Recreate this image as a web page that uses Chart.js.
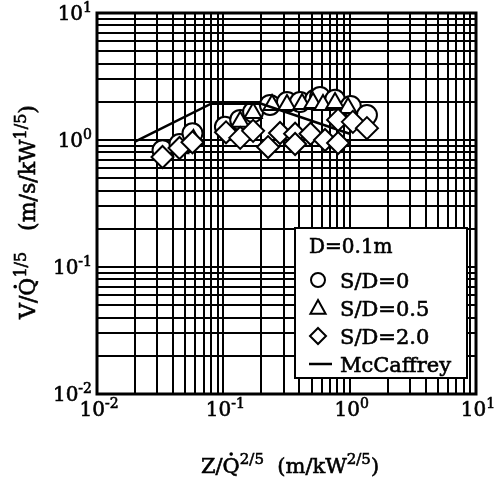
<!DOCTYPE html>
<html>
<head>
<meta charset="utf-8">
<script src="https://cdn.jsdelivr.net/npm/chart.js@4.4.0/dist/chart.umd.min.js"></script>
<style>
  html, body { margin: 0; padding: 0; background: #fff; }
</style>
</head>
<body>
<canvas id="velocityChart" width="501" height="478"></canvas>
<script>
// decade ticks shared by both log axes
const decades = [0.01, 0.1, 1, 10];
const decadeExponents = ['-2', '-1', '0', '1'];

// S/D = 0
const zqCircle = [0.033, 0.045, 0.057, 0.103, 0.136, 0.172, 0.234, 0.319, 0.405, 0.532, 0.583, 0.766, 1.02, 1.37];
const vqCircle = [0.83, 0.93, 1.13, 1.27, 1.44, 1.66, 1.89, 1.99, 1.99, 2.07, 2.18, 2.07, 1.85, 1.57];

// S/D = 0.5
const zqTriangle = [0.045, 0.058, 0.136, 0.172, 0.243, 0.319, 0.42, 0.513, 0.615, 0.766, 0.97];
const vqTriangle = [0.86, 1.0, 1.39, 1.63, 1.89, 1.89, 1.92, 1.96, 1.89, 1.96, 1.79];

// S/D = 2.0
const zqDiamond = [0.033, 0.045, 0.057, 0.105, 0.136, 0.172, 0.226, 0.281, 0.37, 0.37, 0.49, 0.638, 0.81, 0.81, 1.06, 1.37];
const vqDiamond = [0.735, 0.865, 0.96, 1.15, 1.04, 1.18, 0.88, 1.135, 1.12, 0.93, 1.12, 1.0, 0.947, 1.44, 1.39, 1.24];

// McCaffrey correlation (flame / intermittent / plume)
const zqMcCaffrey = [0.02, 0.08, 0.2, 1.0];
const vqMcCaffrey = [0.97, 1.93, 1.93, 1.12];

const FONT = '"DejaVu Serif", "Liberation Serif", serif';

function toPoints(xs, ys) {
  return xs.map((x, i) => ({ x: x, y: ys[i] }));
}

// every 1..9 multiple inside each decade, so all grid lines come out
function fullDecadeTicks(scale) {
  const ticks = [];
  for (let i = 0; i < decades.length - 1; i++) {
    for (let k = 1; k <= 9; k++) ticks.push({ value: k * decades[i] });
  }
  ticks.push({ value: decades[decades.length - 1] });
  scale.ticks = ticks;
}

// slightly heavier text, like a printed figure
function inkText(ctx, t, x, y) {
  ctx.fillText(t, x, y);
  ctx.lineWidth = 0.6;
  ctx.strokeText(t, x, y);
}

// text with superscripts and an optional dot over a letter
function richWidth(ctx, runs, size) {
  let w = 0;
  runs.forEach(r => {
    ctx.font = (r.sup ? Math.round(size * 0.72) : size) + 'px ' + FONT;
    w += ctx.measureText(r.t).width;
  });
  return w;
}

function drawRich(ctx, runs, x, y, size, align) {
  const total = richWidth(ctx, runs, size);
  let cx = align === 'center' ? x - total / 2 : align === 'right' ? x - total : x;
  ctx.textAlign = 'left';
  ctx.textBaseline = 'alphabetic';
  runs.forEach(r => {
    const s = r.sup ? Math.round(size * 0.72) : size;
    ctx.font = s + 'px ' + FONT;
    const w = ctx.measureText(r.t).width;
    const dy = r.sup ? -size * 0.42 : 0;
    inkText(ctx, r.t, cx, y + dy);
    if (r.dot) {
      ctx.beginPath();
      ctx.arc(cx + w / 2, y - size * 0.9, 1.8, 0, Math.PI * 2);
      ctx.fill();
    }
    cx += w;
  });
}

function marker(ctx, style, x, y, r) {
  ctx.beginPath();
  if (style === 'circle') {
    ctx.arc(x, y, r, 0, Math.PI * 2);
  } else if (style === 'triangle') {
    ctx.moveTo(x, y - r);
    ctx.lineTo(x + r * 0.95, y + r * 0.72);
    ctx.lineTo(x - r * 0.95, y + r * 0.72);
    ctx.closePath();
  } else {
    ctx.moveTo(x, y - r);
    ctx.lineTo(x + r, y);
    ctx.lineTo(x, y + r);
    ctx.lineTo(x - r, y);
    ctx.closePath();
  }
  ctx.fillStyle = '#fff';
  ctx.fill();
  ctx.stroke();
}

const framePlugin = {
  id: 'frame',
  afterDraw(chart) {
    const ctx = chart.ctx;
    const a = chart.chartArea;
    const xs = chart.scales.x, ys = chart.scales.y;
    ctx.save();
    ctx.strokeStyle = '#000';
    ctx.fillStyle = '#000';

    // plot frame
    ctx.lineWidth = 3;
    ctx.strokeRect(a.left, a.top, a.right - a.left, a.bottom - a.top);

    // decade labels
    decades.forEach((v, i) => {
      const runs = [{ t: '10' }, { t: decadeExponents[i], sup: true }];
      drawRich(ctx, runs, a.left - 5, ys.getPixelForValue(v) + 7, 20, 'right');
      drawRich(ctx, runs, xs.getPixelForValue(v) + 2, a.bottom + 22, 20, 'center');
    });

    // axis titles
    drawRich(ctx, [{ t: 'Z/' }, { t: 'Q', dot: true }, { t: '2/5', sup: true },
      { t: '  (m/kW' }, { t: '2/5', sup: true }, { t: ')' }], 290, 473, 21, 'center');
    ctx.save();
    ctx.translate(35, 212);
    ctx.rotate(-Math.PI / 2);
    drawRich(ctx, [{ t: 'V/' }, { t: 'Q', dot: true }, { t: '1/5', sup: true },
      { t: '   (m/s/kW' }, { t: '1/5', sup: true }, { t: ')' }], 0, 0, 22, 'center');
    ctx.restore();

    // legend box
    const lx = 295, ly = 228, lw = 172, lh = 150;
    ctx.fillStyle = '#fff';
    ctx.fillRect(lx, ly, lw, lh);
    ctx.lineWidth = 2;
    ctx.strokeRect(lx, ly, lw, lh);
    ctx.fillStyle = '#000';
    ctx.font = '20px ' + FONT;
    ctx.textAlign = 'left';
    ctx.textBaseline = 'alphabetic';
    inkText(ctx, 'D=0.1m', 309, 253);

    const items = chart.data.datasets.slice().sort((p, q) => p.legendRank - q.legendRank);
    items.forEach((ds, i) => {
      const cy = 280 + i * 28;
      ctx.lineWidth = 2;
      if (ds.showLine) {
        ctx.lineWidth = 2.5;
        ctx.beginPath();
        ctx.moveTo(309, cy);
        ctx.lineTo(332, cy);
        ctx.stroke();
      } else {
        marker(ctx, ds.pointStyle, 318, cy, ds.pointStyle === 'circle' ? 7 : 8);
      }
      ctx.fillStyle = '#000';
      ctx.font = '21px ' + FONT;
      inkText(ctx, ds.label, 340, cy + 8);
    });
    ctx.restore();
  }
};

const markerStyle = {
  backgroundColor: '#fff',
  borderColor: '#000',
  borderWidth: 2,
  pointRadius: 10,
  pointHoverRadius: 10
};

const axis = {
  type: 'logarithmic',
  min: 0.01,
  max: 10,
  afterBuildTicks: fullDecadeTicks,
  ticks: { display: false },
  grid: { color: '#000', lineWidth: 2, drawTicks: false },
  border: { display: false }
};

new Chart(document.getElementById('velocityChart'), {
  type: 'scatter',
  data: {
    datasets: [
      { label: 'S/D=0', legendRank: 0, order: 4, pointStyle: 'circle',
        data: toPoints(zqCircle, vqCircle), ...markerStyle },
      { label: 'S/D=0.5', legendRank: 1, order: 3, pointStyle: 'triangle',
        data: toPoints(zqTriangle, vqTriangle), ...markerStyle },
      { label: 'McCaffrey', legendRank: 3, order: 2, type: 'line', showLine: true,
        data: toPoints(zqMcCaffrey, vqMcCaffrey),
        borderColor: '#000', borderWidth: 2.5, pointRadius: 0, fill: false, tension: 0 },
      { label: 'S/D=2.0', legendRank: 2, order: 1, pointStyle: 'rectRot',
        data: toPoints(zqDiamond, vqDiamond), ...markerStyle, pointRadius: 11, pointHoverRadius: 11 }
    ]
  },
  options: {
    responsive: false,
    animation: false,
    layout: { padding: { left: 97, top: 13, right: 25, bottom: 84 } },
    plugins: { legend: { display: false }, tooltip: { enabled: false } },
    scales: { x: { ...axis }, y: { ...axis } }
  },
  plugins: [framePlugin]
});
</script>
</body>
</html>
